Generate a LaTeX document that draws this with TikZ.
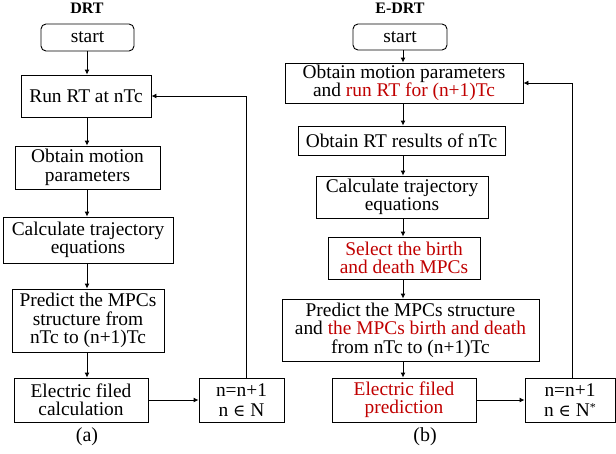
\documentclass[tikz,border=0pt]{standalone}
\usepackage{fontspec}
\setmainfont{Liberation Serif}
\newfontfamily\symfont{DejaVu Serif}[Scale=0.85]
\usetikzlibrary{arrows.meta}
\definecolor{myred}{RGB}{192,0,0}
\begin{document}
\begin{tikzpicture}[x=1pt,y=-1pt,
  box/.style={draw,line width=0.9pt,inner sep=0pt,align=center,font=\fontsize{19.4}{18.4}\selectfont},
  startbox/.style={box,rounded corners=5pt},
  nbox/.style={box,font=\fontsize{19.4}{19.5}\selectfont},
  arr/.style={line width=0.9pt,-{Latex[length=5pt,width=5pt]}},
  ttl/.style={font=\fontsize{16}{16}\selectfont\bfseries},
  captxt/.style={font=\fontsize{20}{20}\selectfont}]
\useasboundingbox (0,0) rectangle (616,453);
% ---- left (DRT)
\node[ttl] (tA) at (87,8) {DRT};
\node[startbox,minimum width=93,minimum height=27] (sA) at (87.5,37.5) {start};
\node[box,minimum width=130,minimum height=42] (rA) at (86,96) {Run RT at nTc};
\node[box,minimum width=145,minimum height=43] (oA) at (87.5,167.5) {Obtain motion\\parameters};
\node[box,minimum width=170,minimum height=46] (cA) at (88,240) {Calculate trajectory\\equations};
\node[box,minimum width=152,minimum height=63] (pA) at (88,320.5) {Predict the MPCs\\structure from\\nTc to (n+1)Tc};
\node[box,minimum width=134,minimum height=44] (eA) at (81,400) {Electric filed\\calculation};
\node[nbox,minimum width=85,minimum height=44] (nA) at (241.5,400) {n=n+1\\n {\symfont ∈} N};
\node[captxt] (capA) at (87,437) {(a)};
\coordinate (xA) at (87,0);
\coordinate (fA) at (246,0);
\draw[arr] (sA.south -| xA) -- (rA.north -| xA);
\draw[arr] (rA.south -| xA) -- (oA.north -| xA);
\draw[arr] (oA.south -| xA) -- (cA.north -| xA);
\draw[arr] (cA.south -| xA) -- (pA.north -| xA);
\draw[arr] (pA.south -| xA) -- (eA.north -| xA);
\draw[arr] (eA.east) -- (nA.west);
\draw[arr] (nA.north -| fA) |- (rA.east);
% ---- right (E-DRT)
\node[ttl] (tB) at (400,8) {E-DRT};
\node[startbox,minimum width=94,minimum height=26] (sB) at (400,37) {start};
\node[box,minimum width=238,minimum height=40] (oB) at (404,83) {Obtain motion parameters\\and \textcolor{myred}{run RT for (n+1)Tc}};
\node[box,minimum width=207,minimum height=29] (rB) at (401.5,140.5) {Obtain RT results of nTc};
\node[box,minimum width=172,minimum height=42] (cB) at (402,197) {Calculate trajectory\\equations};
\node[box,minimum width=152,minimum height=42,text=myred] (slB) at (404,258) {Select the birth\\and death MPCs};
\node[box,minimum width=257,minimum height=62] (pB) at (410.5,330) {Predict the MPCs structure\\and \textcolor{myred}{the MPCs birth and death}\\from nTc to (n+1)Tc};
\node[box,minimum width=144,minimum height=44,text=myred] (eB) at (404,400) {Electric filed\\prediction};
\node[nbox,minimum width=90,minimum height=44] (nB) at (570,400) {n=n+1\\n {\symfont ∈} N\raisebox{4.5pt}{\fontsize{12}{12}\selectfont *}};
\node[captxt] (capB) at (425,437) {(b)};
\coordinate (xB) at (403,0);
\coordinate (fB) at (572,0);
\draw[arr] (sB.south -| xB) -- (oB.north -| xB);
\draw[arr] (oB.south -| xB) -- (rB.north -| xB);
\draw[arr] (rB.south -| xB) -- (cB.north -| xB);
\draw[arr] (cB.south -| xB) -- (slB.north -| xB);
\draw[arr] (slB.south -| xB) -- (pB.north -| xB);
\draw[arr] (pB.south -| xB) -- (eB.north -| xB);
\draw[arr] (eB.east) -- (nB.west);
\draw[arr] (nB.north -| fB) |- (oB.east);
\end{tikzpicture}
\end{document}
